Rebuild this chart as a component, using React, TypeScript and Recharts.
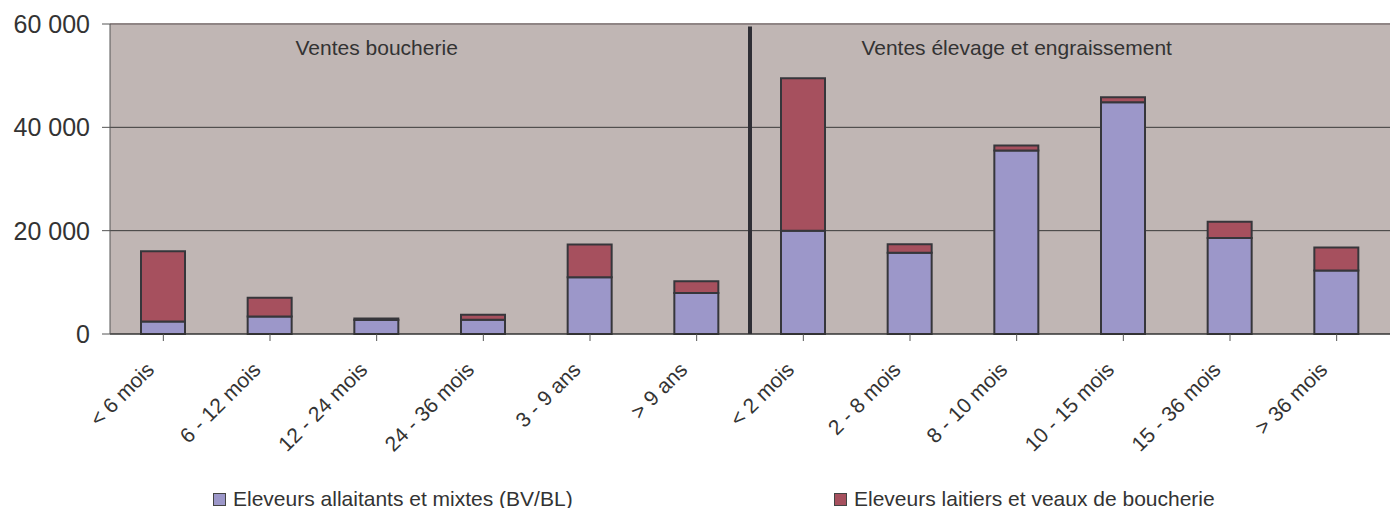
import { BarChart, Bar, XAxis, YAxis, CartesianGrid, Legend, ReferenceLine, ReferenceDot } from "recharts";

const categories = [
  "< 6 mois",
  "6 - 12 mois",
  "12 - 24 mois",
  "24 - 36 mois",
  "3 - 9 ans",
  "> 9 ans",
  "< 2 mois",
  "2 - 8 mois",
  "8 - 10 mois",
  "10 - 15 mois",
  "15 - 36 mois",
  "> 36 mois",
];

const allaitants = [2400, 3400, 2700, 2750, 11000, 7950, 20000, 15750, 35500, 44850, 18600, 12300];
const laitiers = [13600, 3600, 300, 1000, 6300, 2250, 29500, 1600, 1000, 950, 3150, 4450];

const yTicks = [0, 20000, 40000, 60000];

const SERIES = [
  { key: "allaitants", name: "Eleveurs allaitants et mixtes (BV/BL)", color: "#9c97c9" },
  { key: "laitiers", name: "Eleveurs laitiers et veaux de boucherie", color: "#a6505e" },
];

const data = categories.map((name, i) => ({
  name,
  allaitants: allaitants[i],
  laitiers: laitiers[i],
}));

const fmt = (v: number) => String(v).replace(/\B(?=(\d{3})+(?!\d))/g, " ");

function XTick({ x, y, payload }: any) {
  const tx = x - 8;
  const ty = y + 28;
  return (
    <text x={tx} y={ty} transform={`rotate(-45, ${tx}, ${ty})`} textAnchor="end" fontSize={21} fill="#333">
      {payload.value}
    </text>
  );
}

function LegendBox() {
  const lefts = [213, 834];
  return (
    <div style={{ position: "relative", height: 30, fontFamily: "Liberation Sans, Arial, sans-serif" }}>
      {SERIES.map((s, i) => (
        <div
          key={s.key}
          style={{ position: "absolute", left: lefts[i], top: 10, height: 22, display: "flex", alignItems: "center", fontSize: 21, color: "#333" }}
        >
          <span
            style={{ display: "inline-block", width: 11, height: 11, background: s.color, border: "1px solid #444", marginRight: 7 }}
          />
          {s.name}
        </div>
      ))}
    </div>
  );
}

export default function App() {
  return (
    <div style={{ position: "absolute", left: 0, top: 0, fontFamily: "Liberation Sans, Arial, sans-serif" }}>
      <BarChart width={1391} height={508} data={data} margin={{ top: 24, right: 1, left: 0, bottom: 0 }}>
        <CartesianGrid vertical={false} horizontalValues={[20000, 40000]} stroke="#3a3a3a" fill="#c0b6b4" />
        <XAxis
          dataKey="name"
          height={144}
          interval={0}
          tick={<XTick />}
          tickSize={7}
          axisLine={{ stroke: "#333", strokeWidth: 1.5 }}
          tickLine={{ stroke: "#555" }}
        />
        <YAxis
          width={110}
          domain={[0, 60000]}
          ticks={yTicks}
          tickFormatter={fmt}
          tickSize={8}
          tick={{ fontSize: 25, fill: "#333", dx: -10 }}
          axisLine={{ stroke: "#555" }}
          tickLine={{ stroke: "#555" }}
        />
        <ReferenceLine y={60000} stroke="#8f8585" strokeWidth={2} />
        <ReferenceLine
          position="start"
          segment={[{ x: "< 2 mois", y: 59500 }, { x: "< 2 mois", y: 0 }]}
          stroke="#2e2e35"
          strokeWidth={4}
        />
        <ReferenceDot
          x="12 - 24 mois"
          y={55400}
          r={0}
          fill="none"
          stroke="none"
          label={{ value: "Ventes boucherie", position: "center", fontSize: 21, fill: "#333" }}
        />
        <ReferenceDot
          x="8 - 10 mois"
          y={55400}
          r={0}
          fill="none"
          stroke="none"
          label={{ value: "Ventes élevage et engraissement", position: "center", fontSize: 21, fill: "#333" }}
        />
        {SERIES.map((s) => (
          <Bar
            key={s.key}
            dataKey={s.key}
            name={s.name}
            stackId="a"
            fill={s.color}
            stroke="#36363b"
            strokeWidth={2}
            barSize={44}
            isAnimationActive={false}
          />
        ))}
        <Legend verticalAlign="bottom" content={<LegendBox />} />
      </BarChart>
    </div>
  );
}
